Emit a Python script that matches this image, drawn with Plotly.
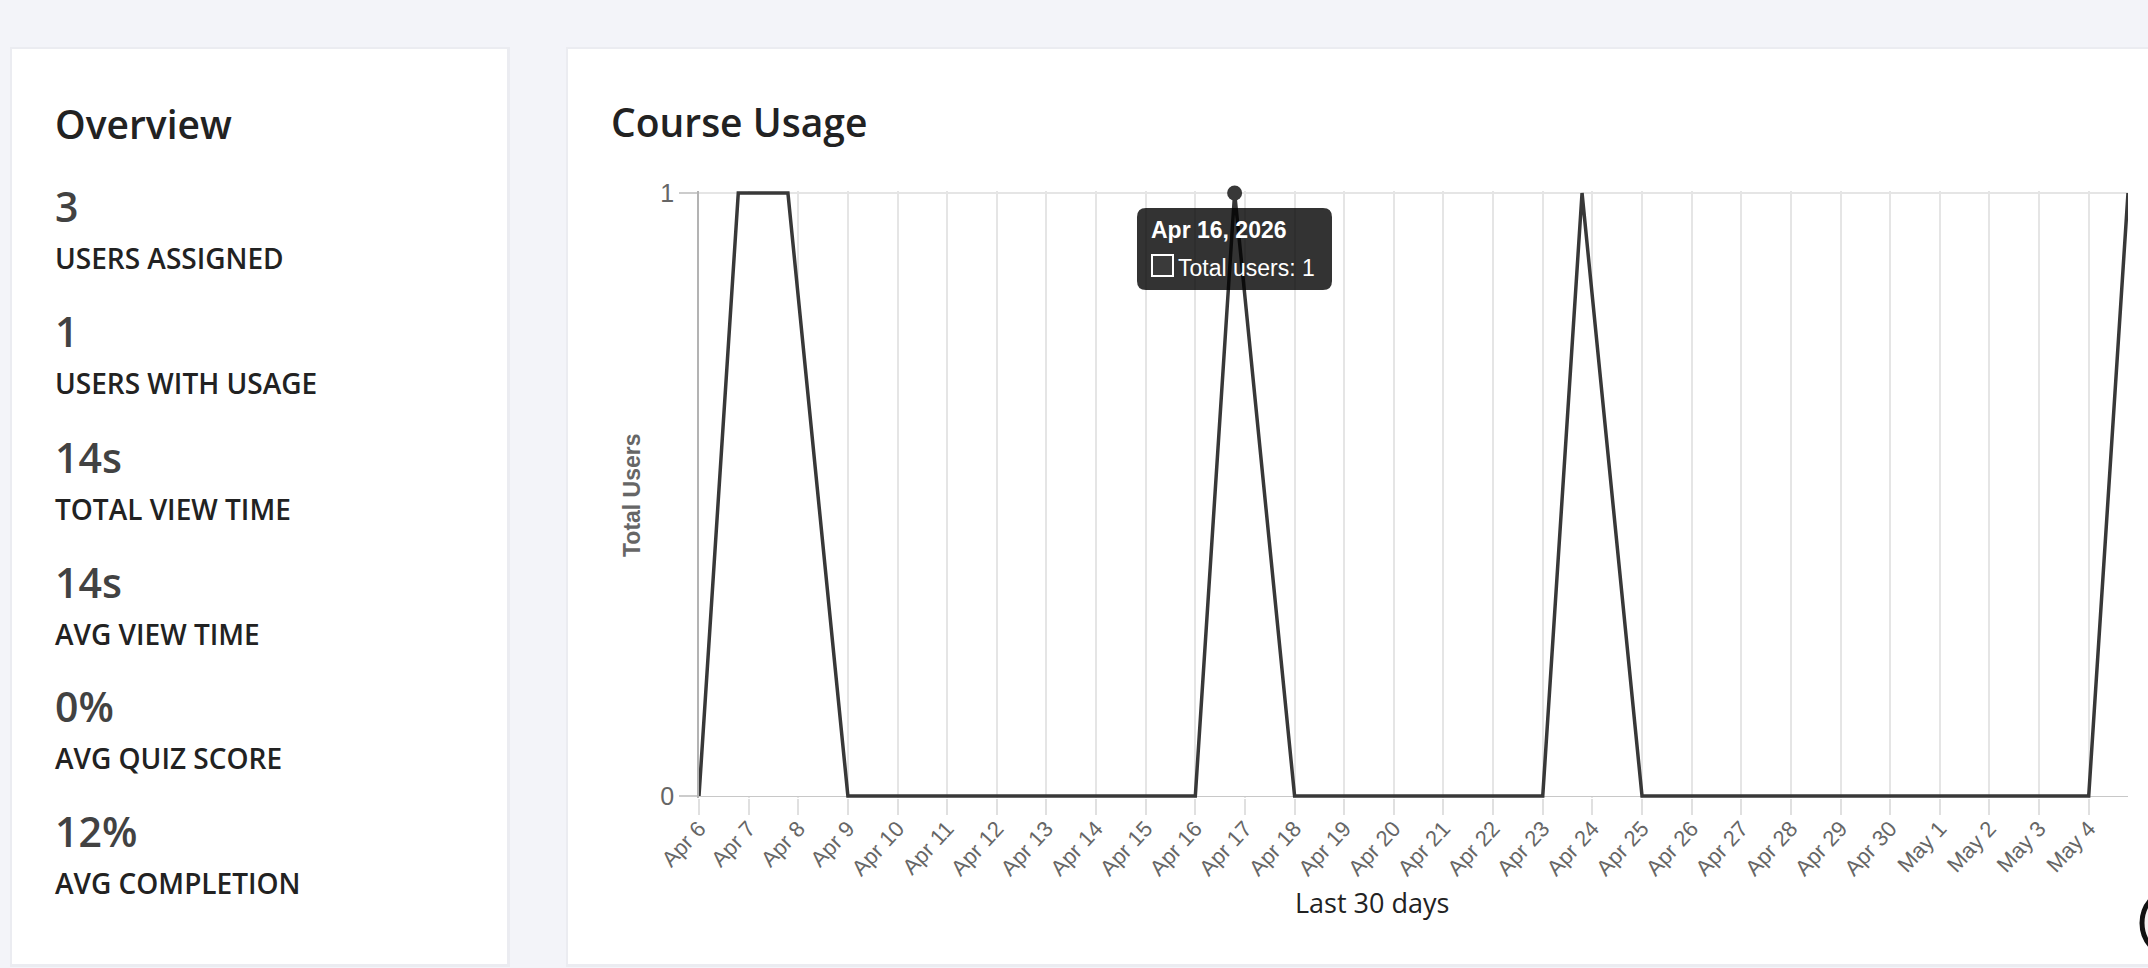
import plotly.graph_objects as go

# ---------------- data ----------------
times = [
    "2026-04-06 00:00", "2026-04-06 19:00", "2026-04-07 19:00",
    "2026-04-09 00:00", "2026-04-10 00:00", "2026-04-11 00:00", "2026-04-12 00:00",
    "2026-04-13 00:00", "2026-04-14 00:00", "2026-04-15 00:00", "2026-04-16 00:00",
    "2026-04-16 19:00",
    "2026-04-18 00:00", "2026-04-19 00:00", "2026-04-20 00:00", "2026-04-21 00:00",
    "2026-04-22 00:00", "2026-04-23 00:00",
    "2026-04-23 19:00",
    "2026-04-25 00:00", "2026-04-26 00:00", "2026-04-27 00:00", "2026-04-28 00:00",
    "2026-04-29 00:00", "2026-04-30 00:00", "2026-05-01 00:00", "2026-05-02 00:00",
    "2026-05-03 00:00", "2026-05-04 00:00",
    "2026-05-04 19:00",
]
total_users = [0, 1, 1,
               0, 0, 0, 0,
               0, 0, 0, 0,
               1,
               0, 0, 0, 0,
               0, 0,
               1,
               0, 0, 0, 0,
               0, 0, 0, 0,
               0, 0,
               1]

highlight_time = "2026-04-16 19:00"
highlight_value = 1
tooltip_title = "Apr 16, 2026"
tooltip_body = "Total users: 1"

overview_values = ["3", "1", "14s", "14s", "0%", "12%"]
overview_labels = ["USERS ASSIGNED", "USERS WITH USAGE", "TOTAL VIEW TIME",
                   "AVG VIEW TIME", "AVG QUIZ SCORE", "AVG COMPLETION"]
y_tick_vals = [0, 1]
y_tick_text = ["0", "1"]

# ---------------- geometry (pixels) ----------------
W, H = 2148, 968
PL, PR = 699, 2128          # plot left/right
PT, PB = 193, 796           # y=1 and y=0 pixel rows
PAD = 2                     # extra px so the top line is not clipped
TOP, BOT = PT - PAD, PB + PAD
unit = PB - PT


def X(px):
    return (px - PL) / (PR - PL)


def Y(py):
    return (BOT - py) / (BOT - TOP)


OPEN = "Open Sans"
ARIAL = "Liberation Sans, Arial, Helvetica, sans-serif"

fig = go.Figure()
fig.add_trace(go.Scatter(
    x=times, y=total_users, mode="lines",
    line=dict(color="#383838", width=3.5),
    fill="tozeroy", fillcolor="white", hoverinfo="skip"))
fig.add_trace(go.Scatter(
    x=[highlight_time], y=[highlight_value], mode="markers",
    marker=dict(size=15, color="#383838"), cliponaxis=False, hoverinfo="skip"))

shapes = []
# cards with subtle shadow
shapes.append(dict(type="rect", xref="paper", yref="paper", layer="below",
                   x0=X(10), x1=X(510), y0=Y(47), y1=Y(967),
                   fillcolor="#ebecf1", line=dict(width=0)))
shapes.append(dict(type="rect", xref="paper", yref="paper", layer="below",
                   x0=X(12), x1=X(507), y0=Y(49), y1=Y(964),
                   fillcolor="white", line=dict(width=0)))
shapes.append(dict(type="rect", xref="paper", yref="paper", layer="below",
                   x0=X(566), x1=X(2200), y0=Y(47), y1=Y(967),
                   fillcolor="#ebecf1", line=dict(width=0)))
shapes.append(dict(type="rect", xref="paper", yref="paper", layer="below",
                   x0=X(568), x1=X(2200), y0=Y(49), y1=Y(964),
                   fillcolor="white", line=dict(width=0)))

# tooltip box with rounded corners
tx0, tx1, ty0, ty1, r = 1137, 1332, 208, 290, 9
pts = [
    (tx0 + r, ty0), (tx1 - r, ty0), (tx1, ty0), (tx1, ty0 + r),
    (tx1, ty1 - r), (tx1, ty1), (tx1 - r, ty1),
    (tx0 + r, ty1), (tx0, ty1), (tx0, ty1 - r),
    (tx0, ty0 + r), (tx0, ty0), (tx0 + r, ty0),
]


def P(p):
    return f"{X(p[0]):.6f},{Y(p[1]):.6f}"


path = (f"M{P(pts[0])} L{P(pts[1])} Q{P(pts[2])} {P(pts[3])} "
        f"L{P(pts[4])} Q{P(pts[5])} {P(pts[6])} L{P(pts[7])} "
        f"Q{P(pts[8])} {P(pts[9])} L{P(pts[10])} Q{P(pts[11])} {P(pts[12])} Z")
shapes.append(dict(type="path", xref="paper", yref="paper", layer="above",
                   path=path, fillcolor="rgba(0,0,0,0.8)", line=dict(width=0)))
shapes.append(dict(type="rect", xref="paper", yref="paper", layer="above",
                   x0=X(1152), x1=X(1173), y0=Y(255), y1=Y(276),
                   fillcolor="#3a3a3a", line=dict(color="white", width=2)))
# partial round widget at bottom-right edge
shapes.append(dict(type="circle", xref="paper", yref="paper", layer="above",
                   x0=X(2142), x1=X(2212), y0=Y(888), y1=Y(958),
                   fillcolor="#f4eeee", line=dict(color="#111", width=5)))

ann = []


def text(s, x, cap_center, size, color, family=OPEN, weight=400,
         xanchor="left", angle=0):
    ann.append(dict(text=s, xref="paper", yref="paper", x=X(x), y=Y(cap_center),
                    xanchor=xanchor, yanchor="middle", showarrow=False,
                    borderpad=0, textangle=angle,
                    font=dict(family=family, size=size, color=color, weight=weight)))


text("Overview", 54, 137 - 0.357 * 39, 39, "#222", weight=600)
num_base = [221, 346, 472, 597, 721, 846]
for v, lab, b in zip(overview_values, overview_labels, num_base):
    text(v, 54, b - 0.357 * 41, 41, "#424242", weight=600)
    text(lab, 54, b + 47 - 0.357 * 28, 28, "#222", weight=600)

text("Course Usage", 610, 135 - 0.357 * 39, 39, "#222", weight=600)
text("Last 30 days", 1372, 912 - 0.357 * 27, 27, "#222", xanchor="center")
ann.append(dict(text="<b>Total Users</b>", xref="paper", yref="paper",
                x=X(632), y=Y(495), xanchor="center", yanchor="middle",
                showarrow=False, textangle=-90,
                font=dict(family=ARIAL, size=23, color="#666")))
text("<b>" + tooltip_title + "</b>", 1150, 238 - 0.358 * 23, 23, "white", family=ARIAL)
text(tooltip_body, 1177, 276 - 0.358 * 23, 23, "white", family=ARIAL)

fig.update_layout(
    width=W, height=H, autosize=False,
    margin=dict(l=PL, r=W - PR, t=TOP, b=H - BOT, pad=0),
    paper_bgcolor="#f3f4f9", plot_bgcolor="rgba(0,0,0,0)",
    showlegend=False, shapes=shapes, annotations=ann,
    xaxis=dict(
        type="date", range=[times[0], times[-1]],
        tick0="2026-04-06", dtick=86400000, tickformat="%b %-d",
        tickangle=-47, showgrid=True, gridcolor="#e5e5e5", gridwidth=1.75,
        ticks="outside", ticklen=16, tickwidth=1.75, tickcolor="#e0e0e0",
        ticklabelstandoff=-8,
        tickfont=dict(family=ARIAL, size=22, color="#666"),
        showline=False, zeroline=False, fixedrange=True),
    yaxis=dict(
        range=[-PAD / unit, 1 + PAD / unit],
        tickmode="array", tickvals=y_tick_vals, ticktext=y_tick_text,
        showgrid=True, gridcolor="#e5e5e5", gridwidth=1.75,
        zeroline=True, zerolinecolor="#c8c8c8", zerolinewidth=1.75,
        showline=True, linecolor="#b3b3b3", linewidth=1.75,
        ticks="outside", ticklen=18, tickwidth=1.75, tickcolor="#cccccc",
        tickfont=dict(family=ARIAL, size=25, color="#666"), fixedrange=True),
)

fig.write_html("out.html", config={"displayModeBar": False},
               post_script="document.body.style.margin='0';document.body.style.overflow='hidden';")
